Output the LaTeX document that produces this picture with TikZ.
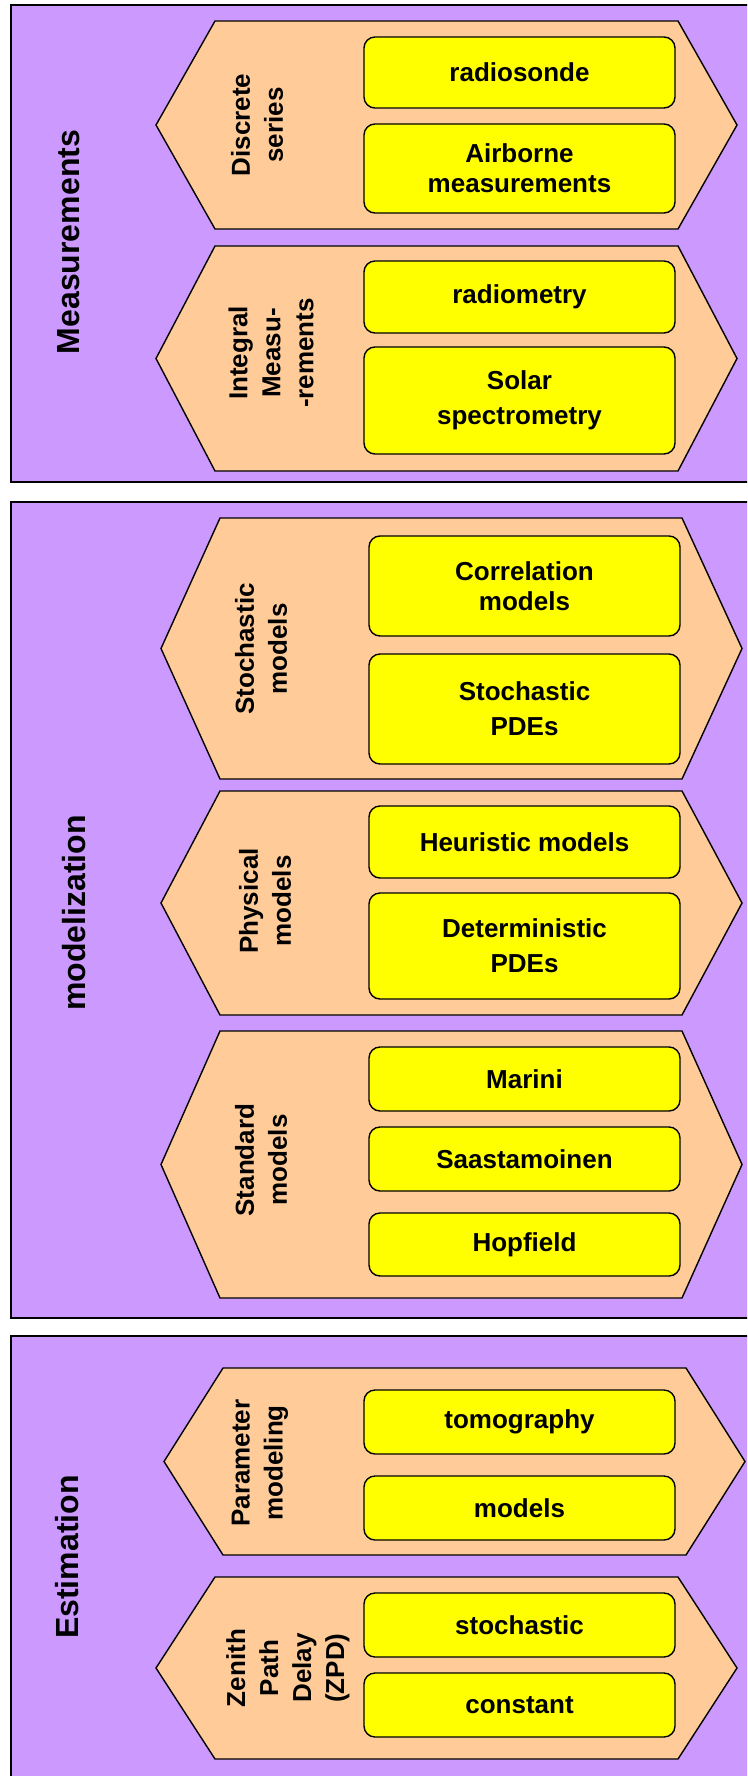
\documentclass[tikz,border=0pt]{standalone}
\usepackage{fontspec}
\setmainfont{Liberation Sans}
\definecolor{purp}{HTML}{CC99FF}
\definecolor{peach}{HTML}{FFCC99}
\definecolor{yel}{HTML}{FFFF00}
\newcommand\myhex[6]{\draw[hexs] (#3,{(#1+#2)/2}) -- (#4,#1) -- (#5,#1) -- (#6,{(#1+#2)/2}) -- (#5,#2) -- (#4,#2) -- cycle;}
\begin{document}
\begin{tikzpicture}[x=1pt,y=-1pt,
  outer/.style={draw=black,fill=purp,line width=1.6pt},
  hexs/.style={draw=black,fill=peach,line width=1.4pt,line join=miter},
  ybox/.style={draw=black,fill=yel,line width=1.4pt,rounded corners=11pt,align=center,
    font=\fontsize{26}{35}\selectfont\bfseries,inner sep=0pt},
  tight/.style={font=\fontsize{26}{30}\selectfont\bfseries},
  title/.style={rotate=90,font=\fontsize{32}{38}\selectfont\bfseries},
  hlabel/.style={rotate=90,align=center,font=\fontsize{26}{33}\selectfont\bfseries}]
\clip (0,0) rectangle (747,1776);
\fill[white] (0,0) rectangle (747,1776);
% ---------- Measurements ----------
\draw[outer] (11,5) rectangle (770,482);
\node[title] (tmeas) at (69,242) {Measurements};
\myhex{21}{229}{156}{215}{678}{737}
\node[hlabel] (ldisc) at (257,125) {Discrete\\series};
\node[ybox,minimum width=311,minimum height=71] (radio) at (519.5,72.5) {radiosonde};
\node[ybox,tight,minimum width=311,minimum height=89] (air) at (519.5,168.5) {Airborne\\measurements};
\myhex{246}{471}{156}{215}{678}{737}
\node[hlabel] (lint) at (271,353) {Integral\\Measu-\\-rements};
\node[ybox,minimum width=311,minimum height=72] (radm) at (519.5,297) {radiometry};
\node[ybox,minimum width=311,minimum height=107] (solar) at (519.5,400.5) {Solar\\spectrometry};
% ---------- modelization ----------
\draw[outer] (11,502) rectangle (770,1318);
\node[title] (tmod) at (74,913) {modelization};
\myhex{518}{779}{161}{220}{682}{742}
\node[hlabel] (lsto) at (261,649) {Stochastic\\models};
\node[ybox,tight,minimum width=311,minimum height=100] (corr) at (524.5,586) {Correlation\\models};
\node[ybox,minimum width=311,minimum height=110] (spde) at (524.5,709) {Stochastic\\PDEs};
\myhex{791}{1015}{161}{220}{682}{742}
\node[hlabel] (lphy) at (265,901) {Physical\\models};
\node[ybox,minimum width=311,minimum height=72] (heur) at (524.5,842) {Heuristic models};
\node[ybox,minimum width=311,minimum height=106] (dpde) at (524.5,946) {Deterministic\\PDEs};
\myhex{1031}{1298}{161}{220}{682}{742}
\node[hlabel] (lstd) at (261,1160) {Standard\\models};
\node[ybox,minimum width=311,minimum height=64] (mar) at (524.5,1079) {Marini};
\node[ybox,minimum width=311,minimum height=64] (saa) at (524.5,1159) {Saastamoinen};
\node[ybox,minimum width=311,minimum height=63] (hop) at (524.5,1244.5) {Hopfield};
% ---------- Estimation ----------
\draw[outer] (11,1336) rectangle (770,1800);
\node[title] (test) at (67,1557) {Estimation};
\myhex{1368}{1555}{164}{223}{686}{745}
\node[hlabel] (lpar) at (260,1463) {Parameter\\modeling};
\node[ybox,minimum width=311,minimum height=64] (tomo) at (519.5,1422) {tomography};
\node[ybox,minimum width=311,minimum height=64] (mods) at (519.5,1508) {models};
\myhex{1577}{1759}{156}{215}{678}{737}
\node[hlabel] (lzpd) at (288,1668) {Zenith\\Path\\Delay\\(ZPD)};
\node[ybox,minimum width=311,minimum height=64] (stoc) at (519.5,1625) {stochastic};
\node[ybox,minimum width=311,minimum height=64] (cons) at (519.5,1705) {constant};
\end{tikzpicture}
\end{document}
